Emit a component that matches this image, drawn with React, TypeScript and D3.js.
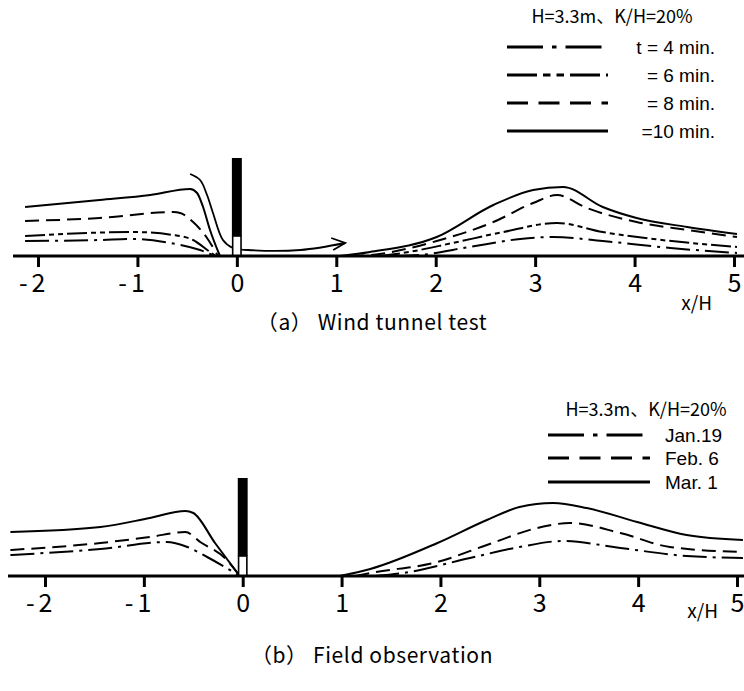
import React, { useEffect, useRef } from 'react';
import * as d3 from 'd3';

type Pt = [number, number];

const FONT = '"Noto Sans CJK JP", "Noto Sans", sans-serif';
const LEGEND_FONT = '"Liberation Sans", Arial, sans-serif';

const xTicks = [-2, -1, 0, 1, 2, 3, 4, 5];
const legendTitle = 'H=3.3m、K/H=20%';

// (a) wind tunnel: snow depth profiles, x/H vs relative depth
const windLabels = ['t = 4 min.', '= 6 min.', '= 8 min.', '=10 min.'];
const windDashes = ['24,6,3,6', '20,4,5,4,5,4', '14,7', ''];

const wind4Up: Pt[] = [[-2.13, 0.15], [-1.38, 0.16], [-1.04, 0.17], [-0.67, 0.13], [-0.37, 0.06], [-0.22, 0]];
const wind4Down: Pt[] = [[1.59, 0], [1.84, 0.01], [2.34, 0.09], [2.85, 0.17], [3.18, 0.19], [3.68, 0.15], [4.36, 0.08], [5.03, 0.03]];
const wind6Up: Pt[] = [[-2.13, 0.2], [-1.04, 0.24], [-0.64, 0.21], [-0.44, 0.16], [-0.27, 0.04], [-0.21, 0]];
const wind6Down: Pt[] = [[1.44, 0], [1.67, 0.03], [2.17, 0.13], [2.68, 0.24], [3.22, 0.33], [3.68, 0.24], [4.19, 0.17], [5.03, 0.09]];
const wind8Up: Pt[] = [[-2.13, 0.35], [-1.38, 0.38], [-0.64, 0.44], [-0.57, 0.43], [-0.44, 0.34], [-0.3, 0.18], [-0.19, 0]];
const wind8Down: Pt[] = [[1.14, 0], [1.34, 0.01], [2.01, 0.15], [2.58, 0.34], [2.98, 0.53], [3.22, 0.61], [3.52, 0.48], [4.02, 0.34], [4.53, 0.26], [5.03, 0.19]];
const wind10Up: Pt[] = [[-2.13, 0.49], [-1.38, 0.56], [-0.87, 0.61], [-0.47, 0.67], [-0.4, 0.63], [-0.34, 0.49], [-0.27, 0.26], [-0.17, 0]];
const wind10Down: Pt[] = [[1.04, 0], [1.34, 0.04], [2.01, 0.19], [2.58, 0.51], [2.98, 0.66], [3.28, 0.69], [3.68, 0.49], [4.02, 0.38], [4.53, 0.29], [5.03, 0.22]];

const flowPath: Pt[] = [[-0.47, 0.82], [-0.37, 0.76], [-0.3, 0.61], [-0.24, 0.43], [-0.14, 0.16], [-0.04, 0.08], [0.11, 0.06], [0.64, 0.06], [1.09, 0.13]];

// (b) field observation
const fieldLabels = ['Jan.19', 'Feb. 6', 'Mar. 1'];
const fieldDashes = ['24,6,3,6', '14,7', ''];

const jan19Up: Pt[] = [[-2.35, 0.21], [-1.44, 0.27], [-0.77, 0.34], [-0.56, 0.29], [-0.36, 0.19], [-0.03, 0]];
const jan19Down: Pt[] = [[1.34, 0], [1.62, 0.03], [2.3, 0.18], [2.8, 0.29], [3.24, 0.35], [3.82, 0.28], [4.49, 0.2], [5.06, 0.18]];
const feb6Up: Pt[] = [[-2.35, 0.26], [-1.44, 0.33], [-0.94, 0.39], [-0.58, 0.44], [-0.43, 0.34], [-0.17, 0.17], [-0.03, 0]];
const feb6Down: Pt[] = [[1.14, 0], [1.29, 0.03], [1.97, 0.14], [2.47, 0.31], [2.98, 0.48], [3.31, 0.53], [3.82, 0.43], [4.32, 0.29], [5.06, 0.24]];
const mar1Up: Pt[] = [[-2.35, 0.44], [-1.44, 0.49], [-0.94, 0.58], [-0.58, 0.65], [-0.5, 0.63], [-0.28, 0.33], [-0.03, 0]];
const mar1Down: Pt[] = [[0.98, 0], [1.29, 0.07], [1.97, 0.33], [2.47, 0.56], [2.8, 0.69], [3.14, 0.73], [3.48, 0.68], [3.99, 0.54], [4.49, 0.41], [5.06, 0.36]];

const fenceTop = 0.98;
const fenceGap = 0.2;

interface PanelCfg {
  xRange: [number, number];
  base: number;
  axisStart: number;
  series: { up: Pt[]; down: Pt[]; dash: string }[];
  labels: string[];
  dashes: string[];
  legend: { titleX: number; titleY: number; lineX: [number, number]; rowY: number[]; textX: number; anchor: string };
  xhX: number;
  xhY: number;
  caption: string;
  captionY: number;
  flow?: Pt[];
}

const panels: PanelCfg[] = [
  {
    xRange: [38, 734], base: 256, axisStart: 13,
    series: [
      { up: wind4Up, down: wind4Down, dash: windDashes[0] },
      { up: wind6Up, down: wind6Down, dash: windDashes[1] },
      { up: wind8Up, down: wind8Down, dash: windDashes[2] },
      { up: wind10Up, down: wind10Down, dash: windDashes[3] },
    ],
    labels: windLabels, dashes: windDashes,
    legend: { titleX: 612, titleY: 23, lineX: [507, 608], rowY: [47, 75, 103, 131], textX: 715, anchor: 'end' },
    xhX: 712, xhY: 310, caption: '（a） Wind tunnel test', captionY: 330, flow: flowPath,
  },
  {
    xRange: [45, 737], base: 576, axisStart: 8,
    series: [
      { up: jan19Up, down: jan19Down, dash: fieldDashes[0] },
      { up: feb6Up, down: feb6Down, dash: fieldDashes[1] },
      { up: mar1Up, down: mar1Down, dash: fieldDashes[2] },
    ],
    labels: fieldLabels, dashes: fieldDashes,
    legend: { titleX: 646, titleY: 416, lineX: [548, 650], rowY: [435, 458, 482], textX: 665, anchor: 'start' },
    xhX: 718, xhY: 618, caption: '（b） Field observation', captionY: 663,
  },
];

function drawPanel(svg: d3.Selection<SVGSVGElement, unknown, null, undefined>, p: PanelCfg) {
  const g = svg.append('g');
  const x = d3.scaleLinear().domain([-2, 5]).range(p.xRange);
  const y = d3.scaleLinear().domain([0, 1]).range([p.base, p.base - 100]);

  const line = d3.line<Pt>().x(d => x(d[0])).y(d => y(d[1])).curve(d3.curveMonotoneX);

  p.series.forEach(s => {
    [s.up, s.down].forEach(seg => {
      g.append('path')
        .attr('d', line(seg))
        .attr('fill', 'none')
        .attr('stroke', '#000')
        .attr('stroke-width', 2)
        .attr('stroke-dasharray', s.dash || null);
    });
  });

  if (p.flow) {
    const flowLine = d3.line<Pt>().x(d => x(d[0])).y(d => y(d[1])).curve(d3.curveCatmullRom);
    g.append('path')
      .attr('d', flowLine(p.flow))
      .attr('fill', 'none')
      .attr('stroke', '#000')
      .attr('stroke-width', 1.8);
    const end = p.flow[p.flow.length - 1];
    const ex = x(end[0]);
    const ey = y(end[1]);
    g.append('path')
      .attr('d', `M${ex - 14},${ey - 5}L${ex},${ey}L${ex - 12},${ey + 7}`)
      .attr('fill', 'none')
      .attr('stroke', '#000')
      .attr('stroke-width', 1.8);
  }

  // fence: solid board with an open gap at the bottom
  const fx0 = x(-0.05);
  const fx1 = x(0.05);
  g.append('rect')
    .attr('x', fx0).attr('y', y(fenceTop))
    .attr('width', fx1 - fx0).attr('height', y(fenceGap) - y(fenceTop))
    .attr('fill', '#000');
  g.append('rect')
    .attr('x', fx0 + 0.8).attr('y', y(fenceGap))
    .attr('width', fx1 - fx0 - 1.6).attr('height', y(0) - y(fenceGap))
    .attr('fill', '#fff').attr('stroke', '#000').attr('stroke-width', 1.6);

  // axis
  g.append('line')
    .attr('x1', p.axisStart).attr('x2', 744)
    .attr('y1', p.base).attr('y2', p.base)
    .attr('stroke', '#000').attr('stroke-width', 3);

  const axis = d3.axisBottom(x).tickValues(xTicks).tickSize(11).tickPadding(7)
    .tickFormat(d => String(d));
  const ag = g.append('g').attr('transform', `translate(0,${p.base})`).call(axis);
  ag.select('.domain').remove();
  ag.selectAll('.tick line').attr('stroke', '#000').attr('stroke-width', 3);
  ag.selectAll<SVGTextElement, number>('.tick text')
    .attr('font-family', FONT)
    .attr('font-size', 25)
    .attr('fill', '#000')
    .attr('text-anchor', d => (d < 0 ? 'end' : 'middle'))
    .attr('letter-spacing', d => (d < 0 ? 4 : 0))
    .attr('x', d => (d < 0 ? 11 : 0));

  g.append('text')
    .attr('x', p.xhX).attr('y', p.xhY)
    .attr('text-anchor', 'end')
    .attr('font-family', FONT).attr('font-size', 19)
    .text('x/H');

  // legend
  const L = p.legend;
  g.append('text')
    .attr('x', L.titleX).attr('y', L.titleY)
    .attr('text-anchor', 'middle')
    .attr('font-family', FONT).attr('font-size', 18)
    .text(legendTitle);
  p.labels.forEach((lab, i) => {
    const ry = L.rowY[i];
    g.append('line')
      .attr('x1', L.lineX[0]).attr('x2', L.lineX[1])
      .attr('y1', ry).attr('y2', ry)
      .attr('stroke', '#000').attr('stroke-width', 3)
      .attr('stroke-dasharray', p.dashes[i] ? p.dashes[i].split(',').map(v => +v * 1.5).join(',') : null);
    g.append('text')
      .attr('x', L.textX).attr('y', ry)
      .attr('dy', '0.36em')
      .attr('text-anchor', L.anchor)
      .attr('font-family', LEGEND_FONT).attr('font-size', 19)
      .text(lab);
  });

  g.append('text')
    .attr('x', 372).attr('y', p.captionY)
    .attr('text-anchor', 'middle')
    .attr('font-family', FONT).attr('font-size', 21)
    .attr('letter-spacing', 0.6)
    .text(p.caption);
}

function App() {
  const svgRef = useRef<SVGSVGElement>(null);
  useEffect(() => {
    const svg = d3.select(svgRef.current as SVGSVGElement);
    svg.selectAll('*').remove();
    svg.append('rect').attr('width', 744).attr('height', 691).attr('fill', '#fff');
    panels.forEach(p => drawPanel(svg, p));
  }, []);

  return (
    <svg
      ref={svgRef}
      width={744}
      height={691}
      style={{ position: 'absolute', left: 0, top: 0, background: '#fff' }}
    />
  );
}

export default App;
